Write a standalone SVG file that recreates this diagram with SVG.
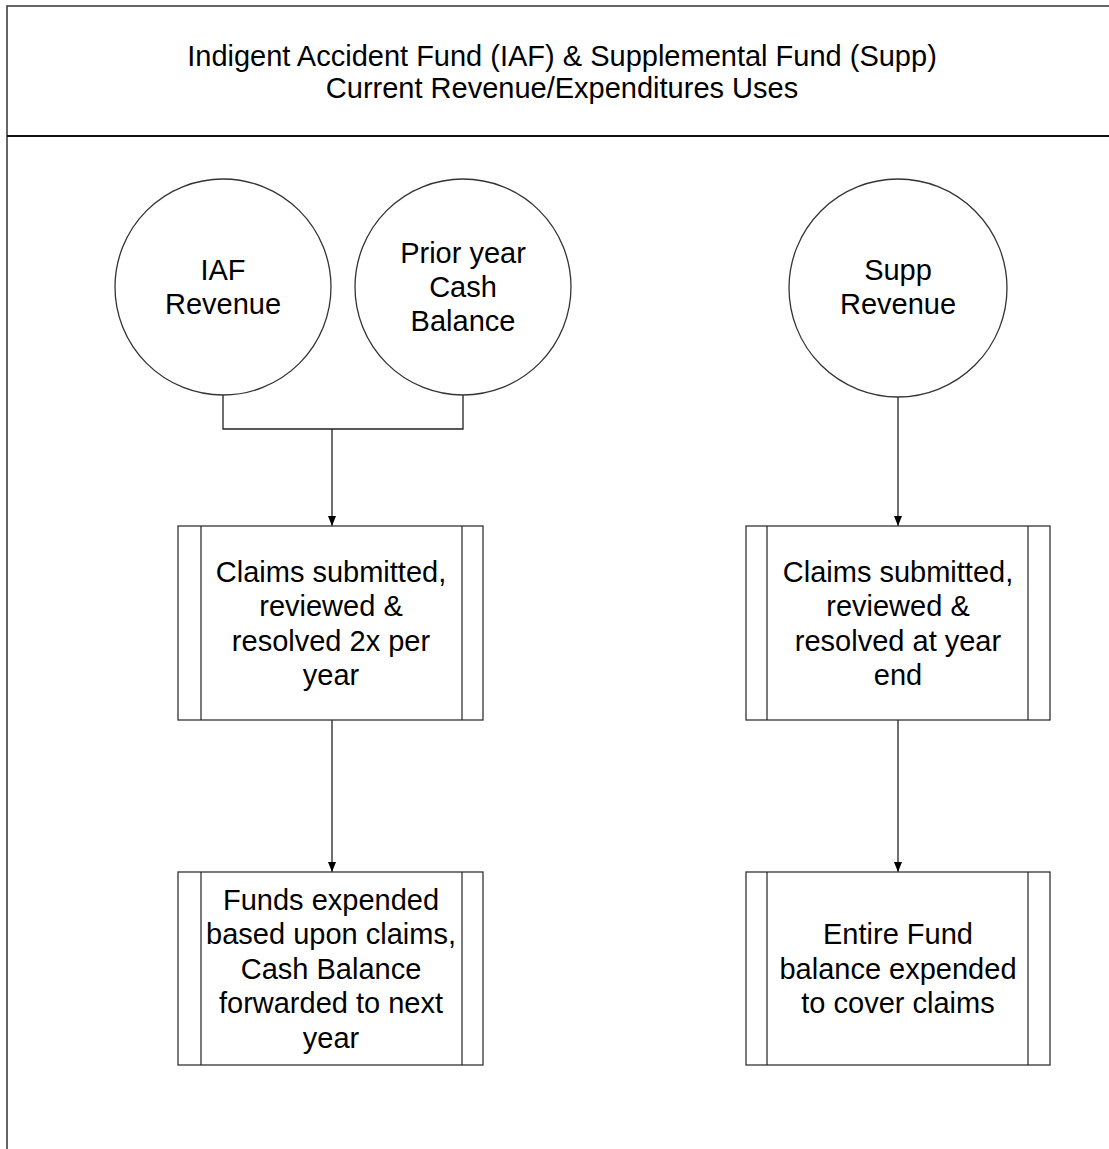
<svg xmlns="http://www.w3.org/2000/svg" width="1109" height="1149" viewBox="0 0 1109 1149">
<defs>
<style>
.t{font-family:"Liberation Sans",Arial,sans-serif;font-size:29px;fill:#000;text-anchor:middle}
.s{fill:#fff;stroke:#333;stroke-width:1.3}
.in{stroke:#222;stroke-width:1.2;fill:none}
.c{stroke:#222;stroke-width:1.3;fill:none}
</style>
<marker id="ah" markerWidth="10" markerHeight="10" refX="10" refY="5" orient="auto" markerUnits="userSpaceOnUse" viewBox="0 0 10 10">
<path d="M0,1 L10,5 L0,9 Z" fill="#000"/>
</marker>
</defs>
<rect width="1109" height="1149" fill="#fff"/>
<g id="frame">
<path d="M1115,6 H7 V1155" fill="none" stroke="#333" stroke-width="1.5"/>
<line x1="7" y1="136" x2="1115" y2="136" stroke="#111" stroke-width="2"/>
<text class="t" x="562" y="66">Indigent Accident Fund (IAF) &amp; Supplemental Fund (Supp)</text>
<text class="t" x="562" y="98">Current Revenue/Expenditures Uses</text>
</g>
<g id="connectors">
<path class="c" d="M223,395 V429 H463 V395"/>
<line class="c" x1="332" y1="429" x2="332" y2="526" marker-end="url(#ah)"/>
<line class="c" x1="332" y1="720" x2="332" y2="872" marker-end="url(#ah)"/>
<line class="c" x1="898" y1="397" x2="898" y2="526" marker-end="url(#ah)"/>
<line class="c" x1="898" y1="720" x2="898" y2="872" marker-end="url(#ah)"/>
</g>
<g id="iaf-revenue">
<circle class="s" cx="223" cy="287" r="108"/>
<text class="t" x="223" y="280">IAF</text>
<text class="t" x="223" y="314">Revenue</text>
</g>
<g id="prior-year">
<circle class="s" cx="463" cy="287" r="108"/>
<text class="t" x="463" y="263">Prior year</text>
<text class="t" x="463" y="297">Cash</text>
<text class="t" x="463" y="331">Balance</text>
</g>
<g id="supp-revenue">
<circle class="s" cx="898" cy="288" r="109"/>
<text class="t" x="898" y="280">Supp</text>
<text class="t" x="898" y="314">Revenue</text>
</g>
<g id="iaf-claims">
<rect class="s" x="178" y="526" width="305" height="194"/>
<line class="in" x1="201" y1="526" x2="201" y2="720"/>
<line class="in" x1="462" y1="526" x2="462" y2="720"/>
<text class="t" x="331" y="582">Claims submitted,</text>
<text class="t" x="331" y="616">reviewed &amp;</text>
<text class="t" x="331" y="651">resolved 2x per</text>
<text class="t" x="331" y="685">year</text>
</g>
<g id="supp-claims">
<rect class="s" x="746" y="526" width="304" height="194"/>
<line class="in" x1="767" y1="526" x2="767" y2="720"/>
<line class="in" x1="1028" y1="526" x2="1028" y2="720"/>
<text class="t" x="898" y="582">Claims submitted,</text>
<text class="t" x="898" y="616">reviewed &amp;</text>
<text class="t" x="898" y="651">resolved at year</text>
<text class="t" x="898" y="685">end</text>
</g>
<g id="iaf-expended">
<rect class="s" x="178" y="872" width="305" height="193"/>
<line class="in" x1="201" y1="872" x2="201" y2="1065"/>
<line class="in" x1="462" y1="872" x2="462" y2="1065"/>
<text class="t" x="331" y="910">Funds expended</text>
<text class="t" x="331" y="944">based upon claims,</text>
<text class="t" x="331" y="979">Cash Balance</text>
<text class="t" x="331" y="1013">forwarded to next</text>
<text class="t" x="331" y="1048">year</text>
</g>
<g id="supp-expended">
<rect class="s" x="746" y="872" width="304" height="193"/>
<line class="in" x1="767" y1="872" x2="767" y2="1065"/>
<line class="in" x1="1028" y1="872" x2="1028" y2="1065"/>
<text class="t" x="898" y="944">Entire Fund</text>
<text class="t" x="898" y="979">balance expended</text>
<text class="t" x="898" y="1013">to cover claims</text>
</g>
</svg>
